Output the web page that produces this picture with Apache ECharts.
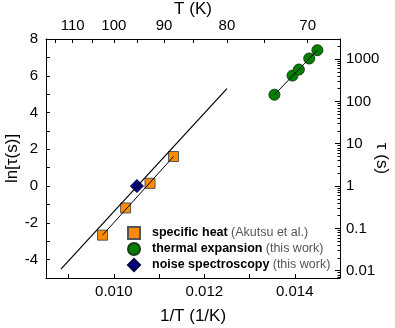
<!DOCTYPE html>
<html><head><meta charset="utf-8">
<script src="https://cdn.jsdelivr.net/npm/echarts@6/dist/echarts.min.js"></script>
<style>html,body{margin:0;padding:0;background:#fff}#c{width:395px;height:328px}</style>
</head><body><div id="c"></div>
<script>
// ---- data ----
const specificHeatX = [0.00975, 0.01026, 0.01080, 0.01132];
const specificHeatY = [-2.67, -1.19, 0.15, 1.61];
const thermalX = [0.01355, 0.01395, 0.01409, 0.01432, 0.01450];
const thermalY = [4.97, 6.01, 6.34, 6.94, 7.39];
const noiseX = [0.01051];
const noiseY = [0.0];
const fitAllX = [0.00883, 0.01250];
const fitAllY = [-4.52, 5.30];
const fitHeatX = [0.00975, 0.01132];
const fitHeatY = [-2.67, 1.61];
const fitThermalX = [0.01355, 0.01450];
const fitThermalY = [4.97, 7.39];
const bottomTickLabels = [0.010, 0.012, 0.014];
const bottomTicks = [0.009, 0.010, 0.011, 0.012, 0.013, 0.014];
const leftTickLabels = [-4, -2, 0, 2, 4, 6, 8];
const leftTicks = [-5, -4, -3, -2, -1, 0, 1, 2, 3, 4, 5, 6, 7, 8];
const topTickLabels = [110, 100, 90, 80, 70];
const topTicks = [115, 110, 105, 100, 95, 90, 85, 80, 75, 70];
const tauTickLabels = ['0.01', '0.1', '1', '10', '100', '1000'];

// ---- build ----
const FONT = "'Liberation Sans', Arial, Helvetica, sans-serif";
const zip = (xs, ys) => xs.map((x, i) => [x, ys[i]]);
const tauVals = tauTickLabels.map(s => Math.log(parseFloat(s)));
const tauMinor = [];
for (let k = -3; k <= 3; k++) for (let m = 2; m <= 9; m++) {
  const v = Math.log(m * Math.pow(10, k));
  if (v >= -5 && v <= 8) tauMinor.push(v);
}
const XMIN = 0.0085, XMAX = 0.015, YMIN = -5, YMAX = 8;
const lineStyleAxis = { color: '#000', width: 1 };
const labelBase = { color: '#000', fontSize: 15, fontFamily: FONT };
const nameStyle = { color: '#000', fontSize: 17, fontFamily: FONT };

const chart = echarts.init(document.getElementById('c'), null, { renderer: 'canvas' });
chart.setOption({
  animation: false,
  backgroundColor: '#fff',
  grid: { left: 46, top: 39, width: 294, height: 239, containLabel: false, outerBoundsMode: 'none' },
  xAxis: [
    { type: 'value', position: 'bottom', min: XMIN, max: XMAX,
      axisLine: { show: true, onZero: false, lineStyle: lineStyleAxis },
      axisTick: { show: true, inside: true, length: 4, customValues: bottomTicks, lineStyle: lineStyleAxis },
      axisLabel: { ...labelBase, margin: 6, customValues: bottomTickLabels, formatter: v => v.toFixed(3) },
      splitLine: { show: false },
      name: '1/T (1/K)', nameLocation: 'middle', nameGap: 30, nameMoveOverlap: false,
      nameTextStyle: nameStyle },
    { type: 'value', position: 'top', min: XMIN, max: XMAX,
      axisLine: { show: true, onZero: false, lineStyle: lineStyleAxis },
      axisTick: { show: true, inside: true, length: 4, customValues: topTicks.map(t => 1 / t), lineStyle: lineStyleAxis },
      axisLabel: { ...labelBase, margin: 6, customValues: topTickLabels.map(t => 1 / t), formatter: v => String(Math.round(1 / v)) },
      splitLine: { show: false },
      name: 'T (K)', nameLocation: 'middle', nameGap: 21, nameMoveOverlap: false,
      nameTextStyle: nameStyle }
  ],
  yAxis: [
    { type: 'value', position: 'left', min: YMIN, max: YMAX,
      axisLine: { show: true, onZero: false, lineStyle: lineStyleAxis },
      axisTick: { show: true, inside: true, length: 4, customValues: leftTicks, lineStyle: lineStyleAxis },
      axisLabel: { ...labelBase, margin: 8, customValues: leftTickLabels, formatter: v => String(Math.round(v)) },
      splitLine: { show: false },
      name: 'ln[τ(s)]', nameLocation: 'middle', nameGap: 25, nameMoveOverlap: false,
      nameTextStyle: nameStyle },
    { type: 'value', position: 'right', min: YMIN, max: YMAX,
      axisLine: { show: true, onZero: false, lineStyle: lineStyleAxis },
      axisTick: { show: true, inside: true, length: 5, customValues: tauVals, lineStyle: lineStyleAxis },
      axisLabel: { ...labelBase, margin: 6, customValues: tauVals,
        formatter: v => { let best = 0; tauVals.forEach((t, i) => { if (Math.abs(t - v) < Math.abs(tauVals[best] - v)) best = i; }); return tauTickLabels[best]; } },
      splitLine: { show: false },
      name: 'τ (s)', nameLocation: 'middle', nameGap: 33, nameRotate: -90, nameMoveOverlap: false,
      nameTextStyle: nameStyle },
    { type: 'value', position: 'right', min: YMIN, max: YMAX,
      axisLine: { show: false, onZero: false },
      axisTick: { show: true, inside: true, length: 2.5, customValues: tauMinor, lineStyle: lineStyleAxis },
      axisLabel: { show: false },
      splitLine: { show: false } }
  ],
  legend: {
    orient: 'vertical', left: 122, top: 221, itemWidth: 12, itemHeight: 12, itemGap: 2,
    data: ['specific heat', 'thermal expansion', 'noise spectroscopy'],
    formatter: n => {
      const sub = { 'specific heat': '(Akutsu et al.)', 'thermal expansion': '(this work)', 'noise spectroscopy': '(this work)' };
      return '{b|' + n + '} {n|' + sub[n] + '}';
    },
    textStyle: { padding: [0, 0, 0, 7], lineHeight: 13, rich: {
      b: { fontWeight: 'bold', color: '#000', fontSize: 12.5, fontFamily: FONT, lineHeight: 13 },
      n: { color: '#555', fontSize: 12.5, fontFamily: FONT, lineHeight: 13 } } }
  },
  series: [
    { name: 'specific heat', type: 'scatter', symbol: 'rect', symbolSize: 10, z: 2,
      itemStyle: { color: '#FF8C00', borderColor: '#555', borderWidth: 1, opacity: 1 },
      data: zip(specificHeatX, specificHeatY) },
    { name: 'thermal expansion', type: 'scatter', symbol: 'circle', symbolSize: 11, z: 2,
      itemStyle: { color: '#008000', borderColor: '#1c3a1c', borderWidth: 1, opacity: 1 },
      data: zip(thermalX, thermalY) },
    { name: 'noise spectroscopy', type: 'scatter', symbol: 'diamond', symbolSize: 13, z: 2,
      itemStyle: { color: '#000080', borderColor: '#000040', borderWidth: 1, opacity: 1 },
      data: zip(noiseX, noiseY) },
    { name: 'fitAll', type: 'line', showSymbol: false, symbol: 'none', z: 3, silent: true,
      lineStyle: { color: '#000', width: 1.2 }, data: zip(fitAllX, fitAllY) },
    { name: 'fitHeat', type: 'line', showSymbol: false, symbol: 'none', z: 3, silent: true,
      lineStyle: { color: '#000', width: 1 }, data: zip(fitHeatX, fitHeatY) },
    { name: 'fitThermal', type: 'line', showSymbol: false, symbol: 'none', z: 3, silent: true,
      lineStyle: { color: '#000', width: 1 }, data: zip(fitThermalX, fitThermalY) }
  ]
});
</script></body></html>
